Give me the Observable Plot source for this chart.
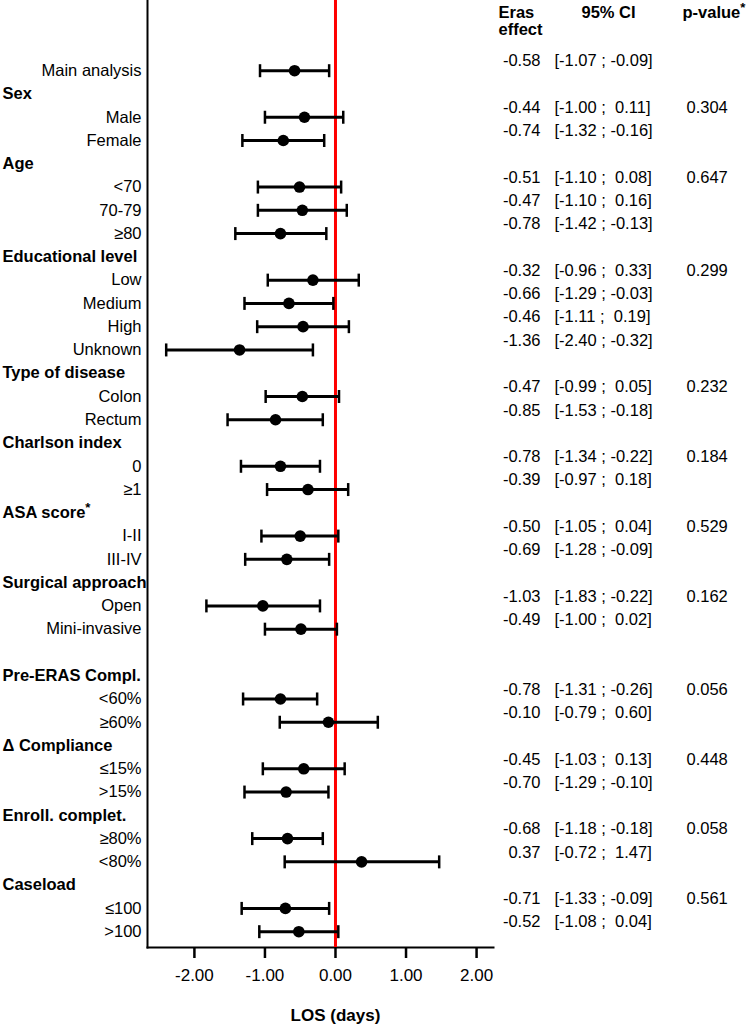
<!DOCTYPE html>
<html>
<head>
<meta charset="utf-8">
<script src="https://cdn.jsdelivr.net/npm/d3@7"></script>
<script src="https://cdn.jsdelivr.net/npm/@observablehq/plot@0.6"></script>
<style>
  html, body { margin: 0; padding: 0; background: #fff; }
  #chart svg { display: block; }
</style>
</head>
<body>
<div id="chart"></div>
<script>
// ---------- data ----------
const groups = ["", "Sex", "Age", "Educational level", "Type of disease", "Charlson index", "ASA score", "Surgical approach", "Pre-ERAS Compl.", "Δ Compliance", "Enroll. complet.", "Caseload"];
const subgroups = [
  ["Main analysis"],
  ["Male", "Female"],
  ["<70", "70-79", "≥80"],
  ["Low", "Medium", "High", "Unknown"],
  ["Colon", "Rectum"],
  ["0", "≥1"],
  ["I-II", "III-IV"],
  ["Open", "Mini-invasive"],
  ["<60%", "≥60%"],
  ["≤15%", ">15%"],
  ["≥80%", "<80%"],
  ["≤100", ">100"]
];
const effects = [
  -0.58,
  -0.44, -0.74,
  -0.51, -0.47, -0.78,
  -0.32, -0.66, -0.46, -1.36,
  -0.47, -0.85,
  -0.78, -0.39,
  -0.50, -0.69,
  -1.03, -0.49,
  -0.78, -0.10,
  -0.45, -0.70,
  -0.68, 0.37,
  -0.71, -0.52
];
const lowers = [
  -1.07,
  -1.00, -1.32,
  -1.10, -1.10, -1.42,
  -0.96, -1.29, -1.11, -2.40,
  -0.99, -1.53,
  -1.34, -0.97,
  -1.05, -1.28,
  -1.83, -1.00,
  -1.31, -0.79,
  -1.03, -1.29,
  -1.18, -0.72,
  -1.33, -1.08
];
const uppers = [
  -0.09,
  0.11, -0.16,
  0.08, 0.16, -0.13,
  0.33, -0.03, 0.19, -0.32,
  0.05, -0.18,
  -0.22, 0.18,
  0.04, -0.09,
  -0.22, 0.02,
  -0.26, 0.60,
  0.13, -0.10,
  -0.18, 1.47,
  -0.09, 0.04
];
const pValues = ["", "0.304", "0.647", "0.299", "0.232", "0.184", "0.529", "0.162", "0.056", "0.448", "0.058", "0.561"];
const xTicks = [-2, -1, 0, 1, 2];
const xLabel = "LOS (days)";
const colHeaders = ["Eras\neffect", "95% CI", "p-value"];
const gapBefore = ["Pre-ERAS Compl."];

// ---------- build rows ----------
const headerRows = [];
const rows = [];
let r = 0, k = 0;
groups.forEach((g, gi) => {
  if (gapBefore.includes(g)) r++;
  if (g !== "") { headerRows.push({label: g, row: r}); r++; }
  subgroups[gi].forEach((s, si) => {
    rows.push({
      label: s, row: r,
      est: effects[k], lo: lowers[k], hi: uppers[k],
      p: si === 0 ? pValues[gi] : ""
    });
    r++; k++;
  });
});
const f2 = v => v.toFixed(2);
const ciText = d => `[${f2(d.lo)} ;\u00a0${d.hi < 0 ? "" : "\u00a0"}${f2(d.hi)}]`;

const capSymbol = {
  draw(context, size) {
    const h = Math.sqrt(size / Math.PI);
    context.moveTo(0, -h);
    context.lineTo(0, h);
  }
};

const font = "'Liberation Sans', Arial, Helvetica, sans-serif";
const fs = 16.5;

const chart = Plot.plot({
  width: 747,
  height: 1028,
  marginLeft: 147,
  marginRight: 254,
  marginTop: 0,
  marginBottom: 81,
  style: {fontFamily: font, fontSize: "16px", color: "#000", background: "#fff"},
  x: {domain: [-2.665, 2.24]},
  y: {domain: [-3.017, 37.68], reverse: true, axis: null},
  marks: [
    Plot.frame({anchor: "left", strokeWidth: 2}),
    Plot.frame({anchor: "bottom", strokeWidth: 2}),
    Plot.axisX({
      ticks: xTicks,
      tickFormat: d => d.toFixed(2),
      tickSize: 11,
      tickPadding: 10,
      fontSize: 17,
      strokeWidth: 2.5,
      label: null
    }),
    Plot.text([xLabel], {x: 0, frameAnchor: "bottom", dy: 73, fontWeight: "bold", fontSize: 17}),
    Plot.ruleX([0], {stroke: "#ff0000", strokeWidth: 3}),
    Plot.ruleY(rows, {y: "row", x1: "lo", x2: "hi", stroke: "#000", strokeWidth: 3}),
    Plot.dot(rows, {x: "lo", y: "row", symbol: capSymbol, r: 6.5, fill: "none", stroke: "#000", strokeWidth: 2.5}),
    Plot.dot(rows, {x: "hi", y: "row", symbol: capSymbol, r: 6.5, fill: "none", stroke: "#000", strokeWidth: 2.5}),
    Plot.dot(rows, {x: "est", y: "row", r: 5.8, fill: "#000", stroke: "none"}),
    // left labels
    Plot.text(rows, {y: "row", text: "label", frameAnchor: "left", textAnchor: "end", dx: -6, fontSize: fs}),
    Plot.text(headerRows, {y: "row", text: "label", frameAnchor: "left", textAnchor: "start", dx: -145, fontSize: fs, fontWeight: "bold"}),
    // right columns
    Plot.text(rows, {y: "row", text: d => f2(d.est), frameAnchor: "right", textAnchor: "end", dx: 47, dy: -9.5, fontSize: fs}),
    Plot.text(rows, {y: "row", text: ciText, frameAnchor: "right", textAnchor: "start", dx: 61, dy: -9.5, fontSize: fs}),
    Plot.text(rows, {y: "row", text: "p", frameAnchor: "right", textAnchor: "start", dx: 193, dy: -9.5, fontSize: fs}),
    // column headers
    Plot.text([colHeaders[0]], {frameAnchor: "top-right", textAnchor: "start", lineAnchor: "top", dx: 5, dy: 6, lineHeight: 1.0, fontWeight: "bold", fontSize: fs}),
    Plot.text([colHeaders[1]], {frameAnchor: "top-right", textAnchor: "middle", lineAnchor: "top", dx: 115, dy: 6, fontWeight: "bold", fontSize: fs}),
    Plot.text([colHeaders[2]], {frameAnchor: "top-right", textAnchor: "start", lineAnchor: "top", dx: 189, dy: 6, fontWeight: "bold", fontSize: fs})
  ]
});

// superscript asterisks
d3.select(chart).selectAll("text").filter(function() {
  return this.textContent === "ASA score" || this.textContent === "p-value";
}).append("tspan").attr("dy", "-0.45em").attr("font-size", "0.8em").text("*");

document.getElementById("chart").appendChild(chart);
</script>
</body>
</html>
